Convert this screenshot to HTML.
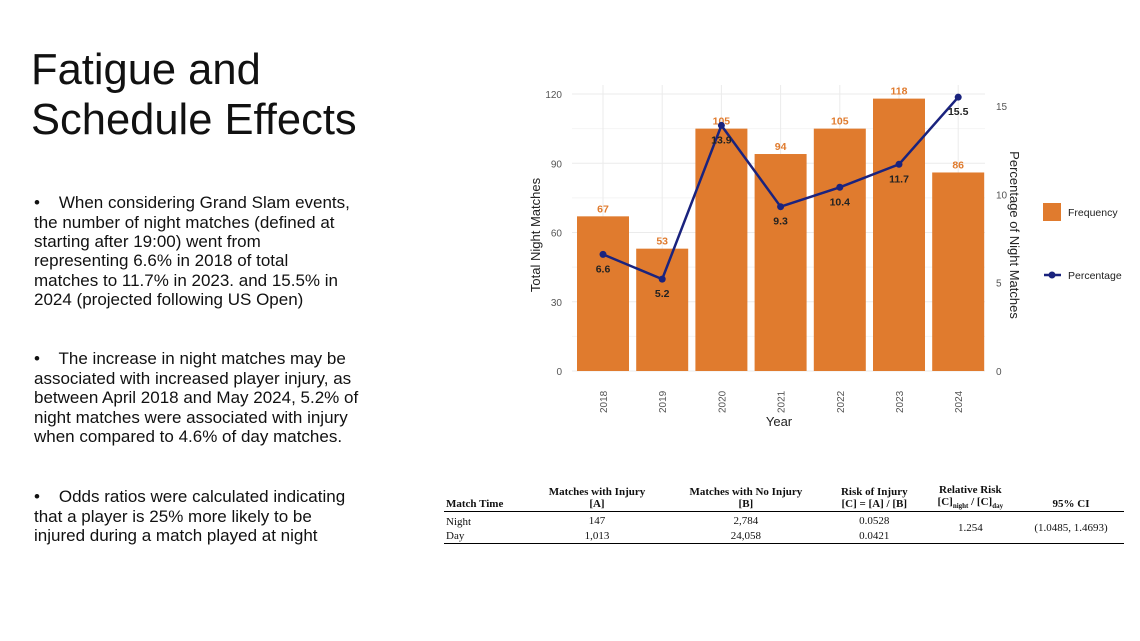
<!DOCTYPE html>
<html><head><meta charset="utf-8"><style>
body{margin:0;width:1140px;height:641px;background:#fff;position:relative;overflow:hidden;font-family:"Liberation Sans",sans-serif;color:#111}
.t{position:absolute;left:31px;font-size:43.5px;line-height:50px}
.ln{position:absolute;left:34px;font-size:17px;white-space:nowrap;line-height:19.5px}
table{position:absolute;left:444px;top:484px;width:680px;border-collapse:collapse;font-family:"Liberation Serif",serif;font-size:11px}
th{font-weight:bold;text-align:center;vertical-align:bottom;padding:0 2px 1px;border-bottom:1px solid #000}
td{text-align:center;padding:0 2px;line-height:14px}
</style></head><body>
<div class="t" style="top:45px">Fatigue and<br>Schedule Effects</div>
<div>
<div class="ln" style="top:193px">•&nbsp;&nbsp;&nbsp; When considering Grand Slam events,</div>
<div class="ln" style="top:213px">the number of night matches (defined at</div>
<div class="ln" style="top:232px">starting after 19:00) went from</div>
<div class="ln" style="top:251px">representing 6.6% in 2018 of total</div>
<div class="ln" style="top:271px">matches to 11.7% in 2023. and 15.5% in</div>
<div class="ln" style="top:290px">2024 (projected following US Open)</div>
</div>
<div>
<div class="ln" style="top:349px">•&nbsp;&nbsp;&nbsp; The increase in night matches may be</div>
<div class="ln" style="top:369px">associated with increased player injury, as</div>
<div class="ln" style="top:388px">between April 2018 and May 2024, 5.2% of</div>
<div class="ln" style="top:408px">night matches were associated with injury</div>
<div class="ln" style="top:427px">when compared to 4.6% of day matches.</div>
</div>
<div>
<div class="ln" style="top:487px">•&nbsp;&nbsp;&nbsp; Odds ratios were calculated indicating</div>
<div class="ln" style="top:507px">that a player is 25% more likely to be</div>
<div class="ln" style="top:526px">injured during a match played at night</div>
</div>

<svg id="chart" width="1140" height="641" style="position:absolute;left:0;top:0" font-family="Liberation Sans, sans-serif"></svg>

<table style="border-bottom:1px solid #000">
<tr><th style="text-align:left">Match Time</th><th>Matches with Injury<br>[A]</th><th>Matches with No Injury<br>[B]</th><th>Risk of Injury<br>[C] = [A] / [B]</th><th>Relative Risk<br>[C]<sub style="font-size:7px">night</sub> / [C]<sub style="font-size:7px">day</sub></th><th>95% CI</th></tr>
<tr><td style="text-align:left;padding-top:3px">Night</td><td>147</td><td>2,784</td><td>0.0528</td><td rowspan="2">1.254</td><td rowspan="2">(1.0485, 1.4693)</td></tr>
<tr><td style="text-align:left">Day</td><td>1,013</td><td>24,058</td><td>0.0421</td></tr>
</table>

<script>
const years=["2018","2019","2020","2021","2022","2023","2024"];
const freq=[67,53,105,94,105,118,86];
const pct=[6.6,5.2,13.9,9.3,10.4,11.7,15.5];
const leftTicks=[0,30,60,90,120];
const rightTicks=[0,5,10,15];
const svg=document.getElementById('chart');
const NS='http://www.w3.org/2000/svg';
const y0=371;
const yL=v=>y0-v*(277/120);
const yR=v=>y0-v*(265/15);
const xC=i=>603+i*59.2;
const bw=52;
function mk(t,a,txt){const e=document.createElementNS(NS,t);for(const k in a)e.setAttribute(k,a[k]);if(txt!==undefined)e.textContent=txt;svg.appendChild(e);return e;}
for(const v of leftTicks){const g=mk('line',{x1:572,x2:985,y1:yL(v),y2:yL(v),stroke:'#ebebeb'});


const t=mk('text',{x:562,y:yL(v)+4,'text-anchor':'end','font-size':10,fill:'#555'},v);

}
for(let i=0;i<leftTicks.length-1;i++){mk('line',{x1:572,x2:985,y1:yL((leftTicks[i]+leftTicks[i+1])/2),y2:yL((leftTicks[i]+leftTicks[i+1])/2),stroke:'#f4f4f4'});}
years.forEach((y,i)=>{const g=mk('line',{x1:xC(i),x2:xC(i),y1:85,y2:y0,stroke:'#ebebeb'});

});
for(const v of rightTicks){const t=mk('text',{x:996,y:yR(v)+4,'font-size':10,fill:'#555'},v);

}
years.forEach((y,i)=>{const b=mk('rect',{x:xC(i)-bw/2,y:yL(freq[i]),width:bw,height:y0-yL(freq[i]),fill:'#e07b2e'});


const l=mk('text',{x:xC(i),y:yL(freq[i])-4,'text-anchor':'middle','font-size':10.5,'font-weight':'bold',fill:'#e07b2e'},freq[i]);


const xl=mk('text',{x:0,y:0,transform:`translate(${xC(i)+4},413) rotate(-90)`,'font-size':10,fill:'#555'},y);

});
const pts=pct.map((v,i)=>xC(i)+','+yR(v)).join(' ');
const pl=mk('polyline',{points:pts,fill:'none',stroke:'#1a237e','stroke-width':2.5});


pct.forEach((v,i)=>{const c=mk('circle',{cx:xC(i),cy:yR(v),r:3.5,fill:'#1a237e'});


const l=mk('text',{x:xC(i),y:yR(v)+18,'text-anchor':'middle','font-size':10.5,'font-weight':'bold',fill:'#222'},v.toFixed(1));

});
let a=mk('text',{x:779,y:426,'text-anchor':'middle','font-size':13,fill:'#222'},'Year');


a=mk('text',{x:0,y:0,transform:'translate(540,235) rotate(-90)','text-anchor':'middle','font-size':13,fill:'#222'},'Total Night Matches');


a=mk('text',{x:0,y:0,transform:'translate(1010,235) rotate(90)','text-anchor':'middle','font-size':13,fill:'#222'},'Percentage of Night Matches');


let lg=mk('rect',{x:1043,y:203,width:18,height:18,fill:'#e07b2e'});


lg=mk('text',{x:1068,y:216,'font-size':10.5,fill:'#222'},'Frequency');


lg=mk('line',{x1:1044,x2:1061,y1:275,y2:275,stroke:'#1a237e','stroke-width':2.5});


mk('circle',{cx:1052,cy:275,r:3.5,fill:'#1a237e'});
lg=mk('text',{x:1068,y:279,'font-size':10.5,fill:'#222'},'Percentage');


</script>
</body></html>
